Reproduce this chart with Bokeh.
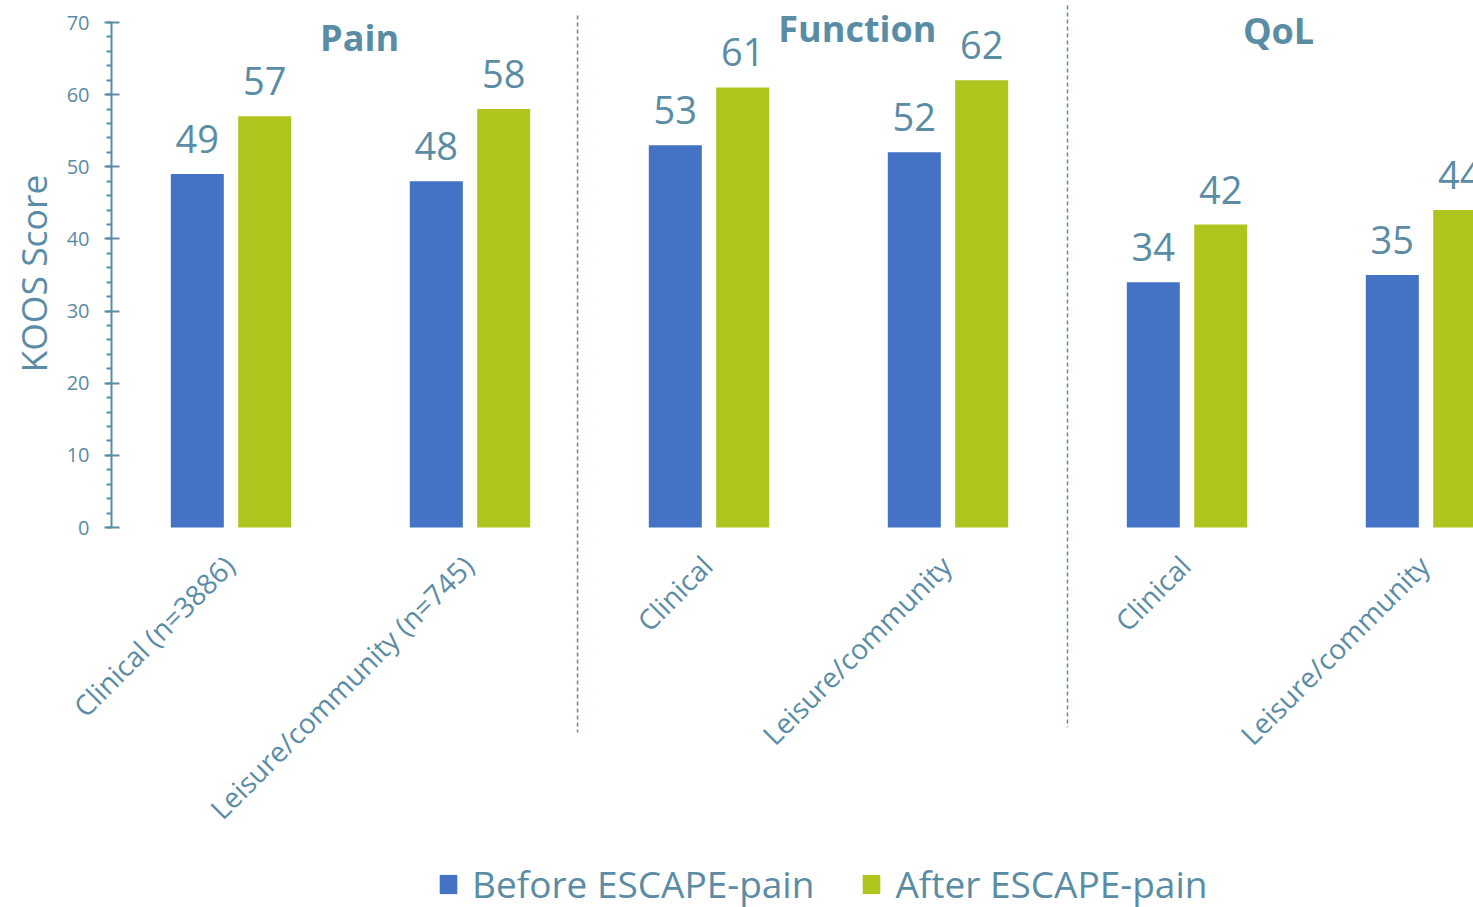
import numpy as np
from bokeh.plotting import figure
from bokeh.models import (ColumnDataSource, Range1d, LinearAxis, SingleIntervalTicker,
                          Legend, LegendItem)
from bokeh.core.properties import value
from bokeh.embed import file_html
from bokeh.resources import INLINE

# ---------------- data ----------------
categories = ["Clinical (n=3886)", "Leisure/community (n=745)",
              "Clinical", "Leisure/community",
              "Clinical", "Leisure/community"]
groups = ["Pain", "Function", "QoL"]
before = [49, 48, 53, 52, 34, 35]
after = [57, 58, 61, 62, 42, 44]
series_names = ["Before ESCAPE-pain", "After ESCAPE-pain"]
y_label = "KOOS Score"
y_ticks_interval = 10

# ---------------- style ----------------
TXT = "#5A8CA5"
BLUE = "#4472C4"
GREEN = "#B0C41E"
FONT = "Open Sans"

W, H = 1473, 907
LEFT = 111                        # pixel column of the value axis
PX_PER_UNIT = 505 / 70.0          # vertical pixels per score unit
Y0_PX = 527                       # pixel row of score 0
CAT_PX = 239.0                    # pixels per category

y_start = -(H - Y0_PX) / PX_PER_UNIT
y_end = Y0_PX / PX_PER_UNIT
x_start = -LEFT / CAT_PX
x_end = (W - LEFT) / CAT_PX

p = figure(width=W, height=H, output_backend="svg", toolbar_location=None,
           x_range=Range1d(x_start, x_end), y_range=Range1d(y_start, y_end),
           min_border_left=0, min_border_right=0, min_border_top=0,
           min_border_bottom=0, y_axis_location=None, x_axis_location=None)
p.outline_line_color = None
p.grid.visible = False
p.background_fill_color = "white"
p.border_fill_color = "white"

# y axis, drawn at category-axis origin
yaxis = LinearAxis(ticker=SingleIntervalTicker(interval=y_ticks_interval, num_minor_ticks=5),
                   bounds=(0, 70), fixed_location=0)
yaxis.axis_line_color = TXT
yaxis.axis_line_width = 2
yaxis.major_tick_line_color = TXT
yaxis.major_tick_line_width = 2
yaxis.minor_tick_line_color = TXT
yaxis.minor_tick_line_width = 2
yaxis.major_tick_out = 7
yaxis.major_tick_in = 8
yaxis.minor_tick_out = 5
yaxis.minor_tick_in = 0
yaxis.major_label_text_color = TXT
yaxis.major_label_text_font = FONT
yaxis.major_label_text_font_size = "20px"
yaxis.major_label_standoff = 15
p.add_layout(yaxis, "left")

# y axis title
p.text(x=[-79 / CAT_PX], y=[35.2], text=[y_label], angle=np.pi / 2,
       text_align="center", text_baseline="middle", text_color=TXT,
       text_font=value(FONT), text_font_size="35.5px")

# bars
xc = np.arange(len(categories)) + 0.5
off = 0.141
bw = 53 / CAT_PX
src = ColumnDataSource(dict(
    xb=xc - off, xa=xc + off, before=before, after=after, cat=categories,
    xc=xc, zero=np.zeros(len(categories)),
    lb=[str(v) for v in before], la=[str(v) for v in after]))

rb = p.vbar(x="xb", top="before", bottom=0, width=bw, source=src,
            fill_color=BLUE, line_color=None)
ra = p.vbar(x="xa", top="after", bottom=0, width=bw, source=src,
            fill_color=GREEN, line_color=None)

# value labels
for xcol, ycol, lcol in (("xb", "before", "lb"), ("xa", "after", "la")):
    p.text(x=xcol, y=ycol, text=lcol, source=src, text_align="center",
           text_baseline="alphabetic", y_offset=-35, text_color=TXT,
           text_font=value(FONT), text_font_size="38px")

# category labels (rotated)
p.text(x="xc", y="zero", text="cat", source=src, angle=np.pi / 4,
       text_align="right", text_baseline="middle", x_offset=-2, y_offset=33,
       text_color=TXT, text_font=value(FONT), text_font_size="28px")

# group titles
title_x = [1.038, 3.121, 4.883]
title_y = [67.92, 69.17, 68.9]
p.text(x=title_x, y=title_y, text=groups, text_align="center",
       text_baseline="alphabetic", text_color=TXT, text_font=value(FONT),
       text_font_size="36px", text_font_style="bold")

# dashed separators
p.segment(x0=[1.95, 4.0], y0=[70.97, 72.35], x1=[1.95, 4.0], y1=[-28.4, -27.7],
          line_color=TXT, line_width=1.5, line_dash="4 3")

# legend
legend = Legend(items=[LegendItem(label=series_names[0], renderers=[rb]),
                       LegendItem(label=series_names[1], renderers=[ra])],
                orientation="horizontal", location=(437, -2),
                glyph_width=22, glyph_height=24, label_standoff=13, spacing=46,
                padding=0, margin=0, border_line_alpha=0, background_fill_alpha=0,
                label_text_color=TXT, label_text_font=FONT,
                label_text_font_size="37px")
p.add_layout(legend, "center")

open("out.html", "w").write(file_html(p, INLINE))
